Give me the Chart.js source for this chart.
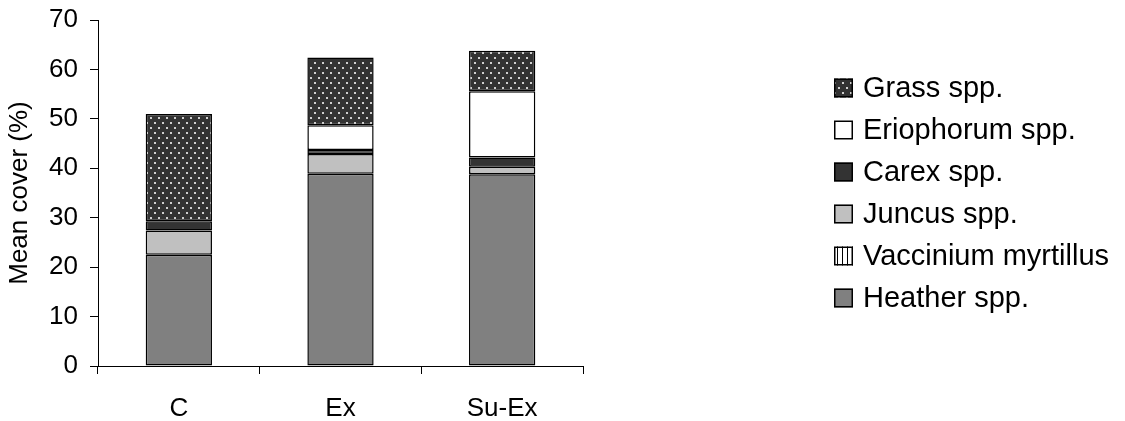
<!DOCTYPE html>
<html>
<head>
<meta charset="utf-8">
<script src="https://cdn.jsdelivr.net/npm/chart.js@4.4.1/dist/chart.umd.min.js"></script>
<style>
  html, body { margin: 0; padding: 0; background: #ffffff; }
  canvas { display: block; }
</style>
</head>
<body>
<canvas id="cover" width="1125" height="421"></canvas>
<script>
// Treatments along the x axis
const categories = ['C', 'Ex', 'Su-Ex'];

// Mean cover (%) per plant group, stacked bottom to top
const heather    = [22.5, 38.9, 38.8];
const vaccinium  = [0, 0, 0];
const juncus     = [4.9, 4.0, 1.5];
const carex      = [1.9, 0.8, 1.9];
const eriophorum = [0, 5.0, 13.4];
const grass      = [21.7, 13.7, 8.2];

// y axis range and tick spacing
const yMin = 0;
const yMax = 70;
const yStep = 10;

const FONT = '"Liberation Sans", Arial, sans-serif';

// Dark fill with light dots for grasses
function dottedPattern() {
  const c = document.createElement('canvas');
  c.width = 8; c.height = 10;
  const g = c.getContext('2d');
  g.fillStyle = '#333333';
  g.fillRect(0, 0, 8, 10);
  g.fillStyle = '#cfcfcf';
  g.fillRect(2, 2, 2, 2);
  g.fillRect(6, 7, 2, 2);
  return g.createPattern(c, 'repeat');
}

// White fill with thin vertical stripes for Vaccinium
function stripePattern() {
  const c = document.createElement('canvas');
  c.width = 5; c.height = 5;
  const g = c.getContext('2d');
  g.fillStyle = '#ffffff';
  g.fillRect(0, 0, 5, 5);
  g.fillStyle = '#000000';
  g.fillRect(2, 0, 1, 5);
  return g.createPattern(c, 'repeat');
}

// Legend drawn at the right, top entry = top of the stack
const sideLegend = {
  id: 'sideLegend',
  afterDraw(chart, args, opts) {
    const ctx = chart.ctx;
    const items = chart.data.datasets.slice().reverse();
    ctx.save();
    ctx.font = opts.fontSize + 'px ' + FONT;
    ctx.textBaseline = 'middle';
    ctx.textAlign = 'left';
    items.forEach((d, i) => {
      const cy = opts.top + i * opts.spacing;
      ctx.fillStyle = d.backgroundColor;
      ctx.fillRect(opts.left, cy - opts.box / 2, opts.box, opts.box);
      ctx.lineWidth = 1.5;
      ctx.strokeStyle = '#000000';
      ctx.strokeRect(opts.left + 0.75, cy - opts.box / 2 + 0.75, opts.box - 1.5, opts.box - 1.5);
      ctx.fillStyle = '#000000';
      ctx.fillText(d.label, opts.left + opts.box + 10, cy + 1);
    });
    ctx.restore();
  }
};

// Outline every non-empty segment; empty segments draw nothing
const common = {
  borderColor: '#000000',
  borderWidth: (ctx) => (ctx.raw ? 1.5 : 0),
  borderSkipped: false,
  barPercentage: 0.41,
  categoryPercentage: 1.0
};

new Chart(document.getElementById('cover'), {
  type: 'bar',
  data: {
    labels: categories,
    datasets: [
      Object.assign({ label: 'Heather spp.',        data: heather,    backgroundColor: '#808080' }, common),
      Object.assign({ label: 'Vaccinium myrtillus', data: vaccinium,  backgroundColor: stripePattern() }, common),
      Object.assign({ label: 'Juncus spp.',         data: juncus,     backgroundColor: '#c0c0c0' }, common),
      Object.assign({ label: 'Carex spp.',          data: carex,      backgroundColor: '#333333' }, common),
      Object.assign({ label: 'Eriophorum spp.',     data: eriophorum, backgroundColor: '#ffffff' }, common),
      Object.assign({ label: 'Grass spp.',          data: grass,      backgroundColor: dottedPattern() }, common)
    ]
  },
  options: {
    responsive: false,
    animation: false,
    devicePixelRatio: 1,
    layout: { padding: { top: 20, right: 542, bottom: 0, left: 0 } },
    plugins: {
      legend: { display: false },
      tooltip: { enabled: false },
      sideLegend: { left: 834, top: 88, spacing: 42, box: 19, fontSize: 29 }
    },
    scales: {
      x: {
        stacked: true,
        offset: true,
        grid: { offset: true, drawOnChartArea: false, drawTicks: true, tickLength: 8, color: '#000000' },
        border: { color: '#000000', width: 1 },
        ticks: { color: '#000000', font: { family: FONT, size: 26 }, padding: 19 },
        afterFit(scale) { scale.height = 55; scale.paddingLeft = 0; scale.paddingRight = 0; }
      },
      y: {
        stacked: true,
        min: yMin,
        max: yMax,
        grid: { drawOnChartArea: false, drawTicks: true, tickLength: 8, color: '#000000' },
        border: { color: '#000000', width: 1 },
        ticks: { stepSize: yStep, color: '#000000', font: { family: FONT, size: 26 }, padding: 12 },
        title: {
          display: true,
          text: 'Mean cover (%)',
          color: '#000000',
          font: { family: FONT, size: 26 },
          padding: { top: 4, bottom: 0 }
        },
        afterFit(scale) { scale.width = 98; scale.paddingTop = 0; scale.paddingBottom = 0; }
      }
    }
  },
  plugins: [sideLegend]
});
</script>
</body>
</html>
